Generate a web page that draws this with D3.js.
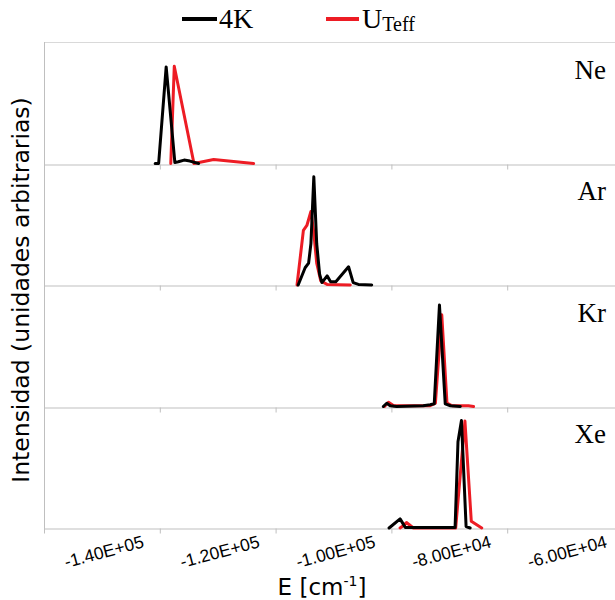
<!DOCTYPE html>
<html>
<head>
<meta charset="utf-8">
<script src="https://cdn.jsdelivr.net/npm/d3@7"></script>
<style>
  html, body { margin: 0; padding: 0; background: #fff; }
  svg { display: block; }
</style>
</head>
<body>
<div id="chart"></div>
<script>
// ---------------- data ----------------
const categories = ["Ne", "Ar", "Kr", "Xe"];
const seriesNames = ["4K", "U"];

const E_4K_Ne = [-140800, -140200, -138900, -137400, -136800, -135800, -134800, -133300];
const I_4K_Ne = [0, 0, 0.795, 0.008, 0.014, 0.028, 0.02, 0];
const E_U_Ne  = [-138100, -137500, -134100, -130700, -123800];
const I_U_Ne  = [0, 0.80, 0, 0.033, 0];

const E_4K_Ar = [-116100, -114900, -114300, -113900, -113400, -112900, -112400, -112000, -111100, -110500, -109600, -108500, -107400, -106600, -105700, -103400];
const I_4K_Ar = [0, 0.142, 0.18, 0.34, 0.89, 0.34, 0.09, 0.02, 0.075, 0.027, 0.027, 0.088, 0.15, 0.02, 0.005, 0];
const E_U_Ar  = [-116300, -115200, -114600, -113900, -113400, -112900, -112200, -111100, -107100];
const I_U_Ar  = [0, 0.45, 0.49, 0.605, 0.43, 0.18, 0.033, 0.005, 0];

const E_4K_Kr = [-101400, -100800, -100200, -99100, -94500, -93300, -92600, -91700, -90700, -89800, -88100];
const I_4K_Kr = [0, 0.027, 0.006, 0, 0.006, 0.014, 0.022, 0.835, 0.022, 0.006, 0];
const E_U_Kr  = [-101200, -100500, -99600, -93300, -92400, -91300, -90400, -89500, -86700, -85800];
const I_U_Kr  = [0, 0.035, 0.006, 0.006, 0.027, 0.755, 0.027, 0.006, 0.006, 0];

const E_4K_Xe = [-100400, -98500, -97600, -89000, -88500, -87900, -87100, -86400];
const I_4K_Xe = [0, 0.075, 0.005, 0.005, 0.71, 0.885, 0.012, 0];
const E_U_Xe  = [-98500, -98200, -97400, -96200, -88900, -87300, -86200, -84400];
const I_U_Xe  = [0, 0.01, 0.045, 0, 0, 0.88, 0.055, 0];

const xTickValues = [-160000, -140000, -120000, -100000, -80000, -60000];
const xTickLabels = ["", "-1.40E+05", "-1.20E+05", "-1.00E+05", "-8.00E+04", "-6.00E+04"];

const panels = [
  { name: "Ne", e4: E_4K_Ne, i4: I_4K_Ne, eu: E_U_Ne, iu: I_U_Ne },
  { name: "Ar", e4: E_4K_Ar, i4: I_4K_Ar, eu: E_U_Ar, iu: I_U_Ar },
  { name: "Kr", e4: E_4K_Kr, i4: I_4K_Kr, eu: E_U_Kr, iu: I_U_Kr },
  { name: "Xe", e4: E_4K_Xe, i4: I_4K_Xe, eu: E_U_Xe, iu: I_U_Xe }
];

// ---------------- layout ----------------
const W = 615, H = 600;
const left = 44, xRight = 623;
const top0 = 42, panelH = 121.5;
const RED = "#ed1c24", BLACK = "#000000", GRID = "#bfbfbf";
const serif = "'Liberation Serif', 'DejaVu Serif', serif";
const sans = "'DejaVu Sans', sans-serif";

const svg = d3.select("#chart").append("svg")
  .attr("width", W).attr("height", H)
  .style("background", "#fff");

const x = d3.scaleLinear().domain([-160000, -60000]).range([left, xRight]);

svg.append("line")
  .attr("x1", left).attr("x2", W).attr("y1", top0 + 0.5).attr("y2", top0 + 0.5)
  .attr("stroke", "#d9d9d9").attr("stroke-width", 1);

panels.forEach((p, i) => {
  const pt = top0 + i * panelH;
  const y = d3.scaleLinear().domain([0, 1]).range([pt + panelH, pt]);
  const g = svg.append("g");

  const ax = g.append("g")
    .attr("transform", `translate(0,${Math.round(pt + panelH) + 0.5})`)
    .call(d3.axisBottom(x).tickValues(xTickValues).tickSize(5).tickSizeOuter(0).tickFormat(""));
  ax.select(".domain").attr("stroke", GRID).attr("stroke-width", 1);
  ax.selectAll(".tick line").attr("stroke", GRID);

  const line = d3.line().x(d => x(d[0])).y(d => y(d[1]));

  g.append("path")
    .datum(d3.zip(p.eu, p.iu))
    .attr("d", line)
    .attr("fill", "none").attr("stroke", RED)
    .attr("stroke-width", 3).attr("stroke-linejoin", "round").attr("stroke-linecap", "round");

  g.append("path")
    .datum(d3.zip(p.e4, p.i4))
    .attr("d", line)
    .attr("fill", "none").attr("stroke", BLACK)
    .attr("stroke-width", 3).attr("stroke-linejoin", "round").attr("stroke-linecap", "round");

  g.append("text")
    .attr("x", 606).attr("y", pt + 36.5)
    .attr("text-anchor", "end")
    .attr("font-family", serif).attr("font-size", 27)
    .attr("fill", "#000")
    .text(p.name);
});

svg.append("line")
  .attr("x1", left + 0.5).attr("x2", left + 0.5)
  .attr("y1", top0).attr("y2", top0 + 4 * panelH + 1)
  .attr("stroke", GRID).attr("stroke-width", 1);

const bottomY = top0 + 4 * panelH;
svg.append("g").selectAll("text")
  .data(d3.zip(xTickValues, xTickLabels).filter(d => d[1] !== ""))
  .join("text")
  .attr("transform", d => `translate(${x(d[0]) - 15},${bottomY + 19}) rotate(-15)`)
  .attr("text-anchor", "end")
  .attr("font-family", "'Liberation Sans', Arial, sans-serif")
  .attr("font-size", 17.5)
  .attr("fill", "#000")
  .text(d => d[1]);

const xt = svg.append("text")
  .attr("x", 322).attr("y", 595)
  .attr("text-anchor", "middle")
  .attr("font-family", sans).attr("font-size", 23)
  .attr("fill", "#000");
xt.append("tspan").text("E [cm");
xt.append("tspan").attr("font-size", 14).attr("dy", -9).text("-1");
xt.append("tspan").attr("dy", 9).text("]");

svg.append("text")
  .attr("transform", `translate(29,${290}) rotate(-90)`)
  .attr("text-anchor", "middle")
  .attr("font-family", sans).attr("font-size", 23.5)
  .attr("fill", "#000")
  .text("Intensidad (unidades arbitrarias)");

const leg = svg.append("g");
leg.append("line").attr("x1", 182).attr("x2", 217).attr("y1", 19).attr("y2", 19)
  .attr("stroke", BLACK).attr("stroke-width", 4);
leg.append("text").attr("x", 219).attr("y", 28)
  .attr("font-family", serif).attr("font-size", 28).attr("fill", "#000")
  .text("4K");
leg.append("line").attr("x1", 326).attr("x2", 359).attr("y1", 19).attr("y2", 19)
  .attr("stroke", RED).attr("stroke-width", 4);
const lt = leg.append("text").attr("x", 362).attr("y", 28)
  .attr("font-family", serif).attr("font-size", 28).attr("fill", "#000");
lt.append("tspan").text("U");
lt.append("tspan").attr("font-size", 20).attr("dy", 3).text("Teff");
</script>
</body>
</html>
